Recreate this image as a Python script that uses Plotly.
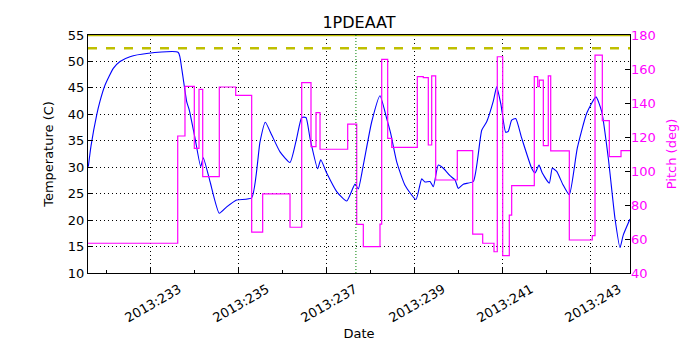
import plotly.graph_objects as go

# Temperature (day-of-year, deg C)
temp_day = [231.598, 231.659, 231.789, 231.864, 231.977, 232.166, 232.318, 232.545, 232.925,
            233.643, 233.720, 233.834, 233.893, 234.023, 234.152, 234.211, 234.364, 234.575,
            234.743, 234.970, 235.311, 235.5, 235.620, 235.766, 235.955, 236.182, 236.334,
            236.448, 236.545, 236.636, 236.811, 236.880, 237.016, 237.243, 237.470, 237.659,
            237.734, 237.848, 238.039, 238.227, 238.380, 238.470, 238.607, 238.795, 239.045,
            239.175, 239.25, 239.364, 239.439, 239.552, 239.666, 239.818, 239.932, 240.007,
            240.120, 240.348, 240.539, 240.652, 240.802, 240.880, 240.977, 241.084, 241.143,
            241.220, 241.311, 241.448, 241.675, 241.75, 241.841, 241.916, 242.075, 242.143,
            242.243, 242.380, 242.530, 242.711, 242.925, 243.136, 243.266, 243.416, 243.568,
            243.682, 243.757, 243.909]
temp_val = [30.1, 34.0, 39.9, 42.5, 45.5, 48.7, 50.0, 50.9, 51.5,
            51.7, 48.7, 42.4, 40.8, 35.5, 30.1, 31.8, 27.3, 21.3,
            22.5, 23.8, 24.2, 34.8, 38.5, 36.1, 32.9, 30.9, 35.5,
            39.4, 39.4, 35.5, 29.7, 31.4, 28.9, 25.4, 23.6, 26.8,
            25.9, 30.4, 38.6, 43.5, 39.2, 36.4, 31.0, 26.6, 23.9,
            27.8, 27.2, 27.3, 26.3, 30.4, 29.8, 28.4, 27.6, 26.0,
            26.8, 27.3, 37.0, 38.6, 42.5, 45.2, 41.8, 36.6, 36.8,
            38.9, 39.2, 35.5, 29.8, 28.9, 30.4, 28.9, 27.0, 29.8,
            29.2, 26.8, 24.8, 33.6, 40.2, 43.3, 40.5, 31.7, 20.3,
            14.8, 17.2, 20.2]

# Pitch (day-of-year step starts, deg)
pitch_day = [231.591, 233.630, 233.795, 234.007, 234.114, 234.198, 234.575, 234.948, 235.311,
             235.561, 236.182, 236.448, 236.659, 236.773, 236.864, 237.493, 237.698, 237.848,
             238.227, 238.266, 238.402, 238.493, 239.075, 239.211, 239.325, 239.402, 239.493,
             239.984, 240.334, 240.561, 240.818, 240.893, 241.016, 241.166, 241.220, 241.734,
             241.811, 241.848, 241.939, 242.052, 242.107, 242.530, 243.052, 243.114, 243.280,
             243.439, 243.705, 243.909]
pitch_val = [57.5, 120.6, 149.8, 113.3, 148.0, 96.7, 149.4, 144.5, 64.0,
             86.5, 66.9, 152.0, 114.3, 134.3, 112.8, 127.6, 68.6, 55.5,
             68.8, 165.7, 119.2, 113.9, 155.5, 154.9, 115.3, 156.0, 94.7,
             112.0, 62.9, 57.5, 52.5, 167.2, 50.2, 74.1, 91.4, 155.5,
             149.6, 153.5, 114.9, 156.0, 111.8, 59.4, 62.0, 168.2, 129.6,
             108.4, 112.0, 112.0]

x_range = [231.591, 243.909]
planning_limit = 55.0
caution_limit = 52.5
marker_day = 237.68
tick_days = [233, 235, 237, 239, 241, 243]
tick_labels = ["2013:%d" % d for d in tick_days]

fig = go.Figure()
fig.add_trace(go.Scatter(x=temp_day, y=temp_val, mode="lines",
                         line=dict(color="#0000ff", width=1.1, shape="spline", smoothing=0.5),
                         showlegend=False))
fig.add_trace(go.Scatter(x=pitch_day, y=pitch_val, mode="lines", yaxis="y2",
                         line=dict(color="#ff00ff", width=1.2, shape="hv"), showlegend=False))
fig.add_trace(go.Scatter(x=x_range, y=[caution_limit, caution_limit], mode="lines",
                         line=dict(color="#bfbf00", width=2.5, dash="dash"), showlegend=False))
fig.add_trace(go.Scatter(x=x_range, y=[planning_limit, planning_limit], mode="lines",
                         line=dict(color="#bfbf00", width=2.5), showlegend=False, cliponaxis=False))
fig.add_shape(type="line", x0=marker_day, x1=marker_day, y0=0, y1=1, yref="paper",
              line=dict(color="#008000", width=1, dash="1px,2px"))

# page body has an 8px margin: shift figure accordingly
font = dict(family="DejaVu Sans", size=13, color="black")
grid_dash = "1px,3px"
fig.update_layout(
    width=692, height=342,
    margin=dict(l=80, r=70, t=27, b=77),
    paper_bgcolor="white", plot_bgcolor="white",
    font=font,
    title=dict(text="1PDEAAT", x=0.5, xref="paper", xanchor="center",
               y=1 - 14 / 342, yref="container", yanchor="middle",
               font=dict(family="DejaVu Sans", size=16, color="black")),
    xaxis=dict(range=x_range, tickmode="array", tickvals=tick_days, ticktext=tick_labels,
               tickangle=-30, ticks="inside", ticklen=5, tickcolor="black", automargin=False,
               ticklabelshift=29, ticklabelstandoff=3,
               showgrid=True, gridcolor="black", griddash=grid_dash, gridwidth=0.8,
               showline=True, linecolor="black", linewidth=1, mirror=True, zeroline=False,
               minor=dict(tickmode="linear", tick0=232, dtick=1, ticks="inside", ticklen=3,
                          tickcolor="black", showgrid=False),
               title=dict(text="Date", font=dict(size=13), standoff=4)),
    yaxis=dict(range=[10, 55], tickmode="linear", tick0=10, dtick=5, automargin=False,
               ticks="inside", ticklen=5, tickcolor="black",
               showgrid=True, gridcolor="black", griddash=grid_dash, gridwidth=0.8,
               showline=True, linecolor="black", linewidth=1, mirror=True, zeroline=False,
               title=dict(text="Temperature (C)", font=dict(size=13), standoff=11)),
    yaxis2=dict(range=[40, 180], tickmode="linear", tick0=40, dtick=20, overlaying="y",
                side="right", ticks="inside", ticklen=5, tickcolor="black", automargin=False,
                tickfont=dict(color="#ff00ff"), showgrid=False, zeroline=False,
                title=dict(text="Pitch (deg)", font=dict(size=13, color="#ff00ff"), standoff=12)),
)

fig.write_html("out.html")
